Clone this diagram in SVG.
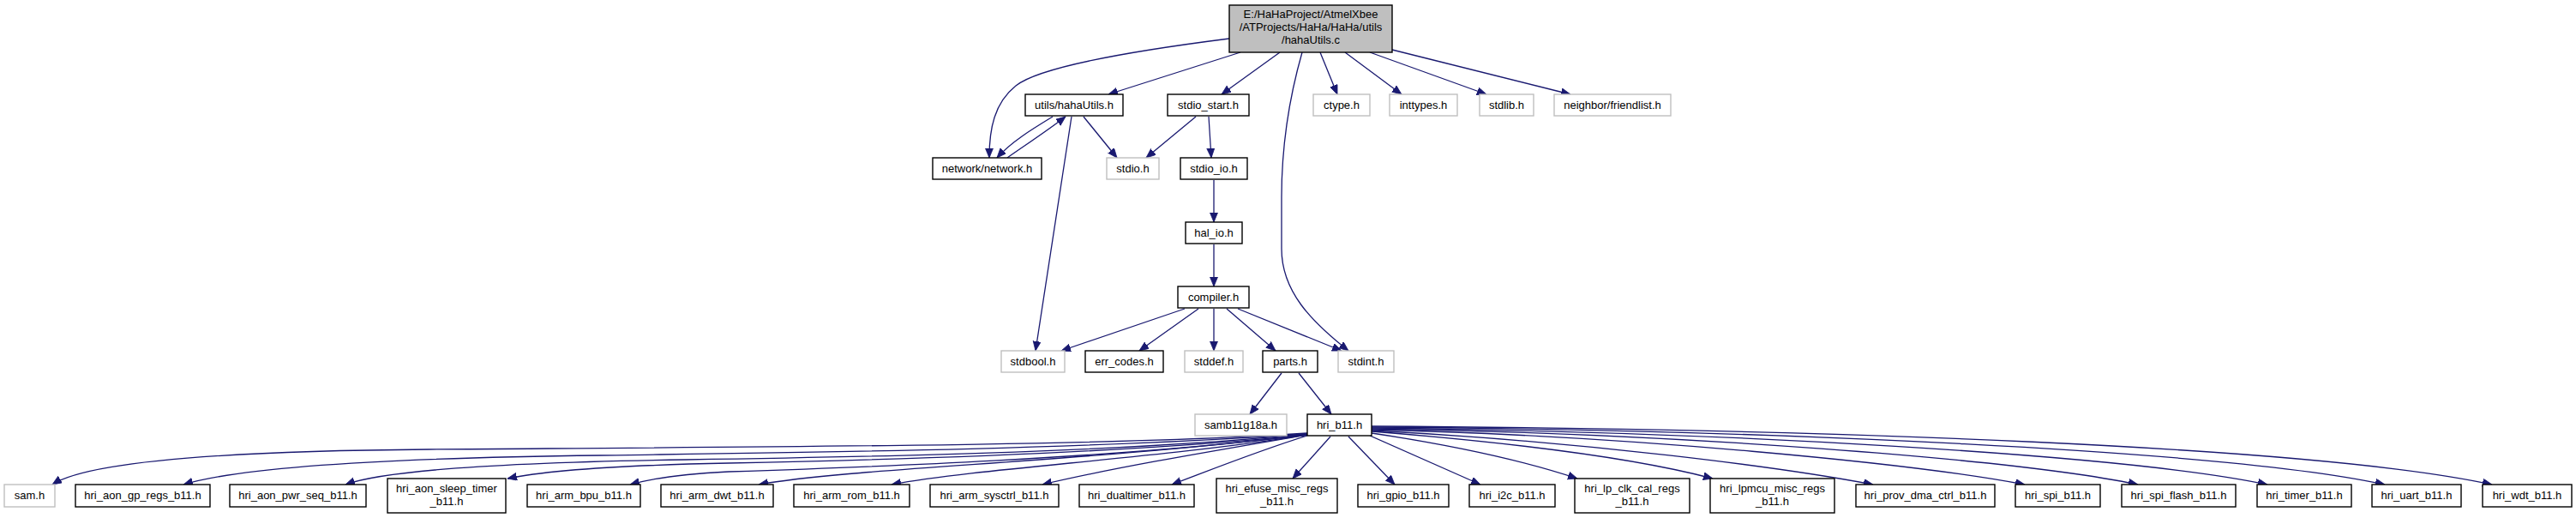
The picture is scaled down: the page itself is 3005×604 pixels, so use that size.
<svg xmlns="http://www.w3.org/2000/svg" width="3005" height="604" viewBox="0 0 3005 604">
<style>
.n rect{fill:#ffffff;stroke:#000000;stroke-width:1.4}
.g rect{fill:#ffffff;stroke:#bfbfbf;stroke-width:1.4}
.r rect{fill:#bfbfbf;stroke:#000000;stroke-width:1.4}
text{font-family:"Liberation Sans",Arial,sans-serif;font-size:13px;fill:#000000;text-anchor:middle}
#edges path{fill:none;stroke:#191970;stroke-width:1.3;marker-end:url(#ah)}
</style>
<defs>
<marker id="ah" markerUnits="userSpaceOnUse" markerWidth="12" markerHeight="10" refX="11" refY="4.5" orient="auto"><path d="M0,0 L11,4.5 L0,9 z" fill="#191970" stroke="#191970" stroke-width="0.8"/></marker>
</defs>
<rect width="3005" height="604" fill="#ffffff"/>
<g id="edges">
<path d="M1434,45 C1300,62 1210,80 1185,100 C1160,120 1154,150 1154,184"/>
<path d="M1447,61 L1293,110"/>
<path d="M1493,61 L1425,110"/>
<path d="M1519,61 C1505,110 1495,170 1495,230 L1495,290 C1495,340 1530,375 1573,409"/>
<path d="M1540,61 L1560,110"/>
<path d="M1569,61 L1635,110"/>
<path d="M1598,61 L1734,110"/>
<path d="M1624,58 L1832,110"/>
<path d="M1228,136 C1205,150 1180,165 1163,184"/>
<path d="M1175,184 C1195,170 1225,150 1243,136"/>
<path d="M1250,136 L1208,409"/>
<path d="M1264,136 L1303,184"/>
<path d="M1395,136 L1337,184"/>
<path d="M1410,136 L1413,184"/>
<path d="M1416,210 L1416,259"/>
<path d="M1416,285 L1416,334"/>
<path d="M1382,360 L1238,409"/>
<path d="M1398,360 L1329,409"/>
<path d="M1416,360 L1416,409"/>
<path d="M1431,360 L1488,409"/>
<path d="M1444,360 L1565,409"/>
<path d="M1495,435 L1458,483"/>
<path d="M1515,435 L1553,483"/>
<path d="M1525,505 C1300,520 900,521 500,524 C250,526 100,540 61,565"/>
<path d="M1525,506 C1250,525 900,528 700,531 C450,534 280,545 214,565"/>
<path d="M1525,506 C1300,528 1000,533 800,536 C600,539 450,548 403,565"/>
<path d="M1525,507 C1300,530 1000,537 850,540 C700,543 630,550 592,558"/>
<path d="M1525,507 C1300,535 1000,545 850,550 C790,553 760,558 735,565"/>
<path d="M1525,507 C1250,540 1000,545 885,565"/>
<path d="M1525,507 C1350,535 1150,545 1040,565"/>
<path d="M1525,507 C1420,525 1300,545 1216,565"/>
<path d="M1525,508 C1470,525 1420,545 1367,565"/>
<path d="M1552,509 L1508,558"/>
<path d="M1573,509 L1627,565"/>
<path d="M1598,508 L1727,565"/>
<path d="M1600,505 C1700,520 1780,538 1840,558"/>
<path d="M1600,503 C1750,515 1900,532 1998,558"/>
<path d="M1600,502 C1850,515 2080,545 2185,565"/>
<path d="M1600,501 C1900,508 2230,540 2362,565"/>
<path d="M1600,500 C1950,505 2350,535 2494,565"/>
<path d="M1600,499 C2000,503 2480,530 2645,565"/>
<path d="M1600,498 C2050,501 2600,525 2782,565"/>
<path d="M1600,497 C2120,500 2700,520 2907,565"/>
</g>
<g id="node-hahaUtils-c" class="r"><rect x="1434" y="6" width="190" height="55"/><text x="1529" y="21">E:/HaHaProject/AtmelXbee</text><text x="1529" y="36">/ATProjects/HaHa/HaHa/utils</text><text x="1529" y="51">/hahaUtils.c</text></g>
<g id="node-utils-hahaUtils-h" class="n"><rect x="1196" y="110" width="114" height="25"/><text x="1253" y="127">utils/hahaUtils.h</text></g>
<g id="node-stdio-start-h" class="n"><rect x="1362" y="110" width="95" height="25"/><text x="1409.5" y="127">stdio_start.h</text></g>
<g id="node-ctype-h" class="g"><rect x="1532" y="110" width="66" height="25"/><text x="1565" y="127">ctype.h</text></g>
<g id="node-inttypes-h" class="g"><rect x="1621" y="110" width="79" height="25"/><text x="1660.5" y="127">inttypes.h</text></g>
<g id="node-stdlib-h" class="g"><rect x="1726" y="110" width="63" height="25"/><text x="1757.5" y="127">stdlib.h</text></g>
<g id="node-friendlist-h" class="g"><rect x="1813" y="110" width="136" height="25"/><text x="1881" y="127">neighbor/friendlist.h</text></g>
<g id="node-network-h" class="n"><rect x="1088" y="184" width="127" height="25"/><text x="1151.5" y="201">network/network.h</text></g>
<g id="node-stdio-h" class="g"><rect x="1291" y="184" width="61" height="25"/><text x="1321.5" y="201">stdio.h</text></g>
<g id="node-stdio-io-h" class="n"><rect x="1377" y="184" width="78" height="25"/><text x="1416" y="201">stdio_io.h</text></g>
<g id="node-hal-io-h" class="n"><rect x="1383" y="259" width="66" height="25"/><text x="1416" y="276">hal_io.h</text></g>
<g id="node-compiler-h" class="n"><rect x="1374" y="334" width="83" height="25"/><text x="1415.5" y="351">compiler.h</text></g>
<g id="node-stdbool-h" class="g"><rect x="1168" y="409" width="74" height="25"/><text x="1205" y="426">stdbool.h</text></g>
<g id="node-err-codes-h" class="n"><rect x="1266" y="409" width="91" height="25"/><text x="1311.5" y="426">err_codes.h</text></g>
<g id="node-stddef-h" class="g"><rect x="1382" y="409" width="68" height="25"/><text x="1416" y="426">stddef.h</text></g>
<g id="node-parts-h" class="n"><rect x="1473" y="409" width="64" height="25"/><text x="1505" y="426">parts.h</text></g>
<g id="node-stdint-h" class="g"><rect x="1561" y="409" width="65" height="25"/><text x="1593.5" y="426">stdint.h</text></g>
<g id="node-samb11g18a-h" class="g"><rect x="1394" y="483" width="107" height="25"/><text x="1447.5" y="500">samb11g18a.h</text></g>
<g id="node-hri-b11-h" class="n"><rect x="1525" y="483" width="75" height="25"/><text x="1562.5" y="500">hri_b11.h</text></g>
<g id="node-sam-h" class="g"><rect x="5" y="565" width="59" height="26"/><text x="34.5" y="582">sam.h</text></g>
<g id="node-aon-gp" class="n"><rect x="88" y="565" width="157" height="26"/><text x="166.5" y="582">hri_aon_gp_regs_b11.h</text></g>
<g id="node-aon-pwr" class="n"><rect x="268" y="565" width="159" height="26"/><text x="347.5" y="582">hri_aon_pwr_seq_b11.h</text></g>
<g id="node-aon-sleep" class="n"><rect x="452" y="558" width="138" height="40"/><text x="521" y="574">hri_aon_sleep_timer</text><text x="521" y="589">_b11.h</text></g>
<g id="node-arm-bpu" class="n"><rect x="615" y="565" width="132" height="26"/><text x="681" y="582">hri_arm_bpu_b11.h</text></g>
<g id="node-arm-dwt" class="n"><rect x="771" y="565" width="131" height="26"/><text x="836.5" y="582">hri_arm_dwt_b11.h</text></g>
<g id="node-arm-rom" class="n"><rect x="926" y="565" width="135" height="26"/><text x="993.5" y="582">hri_arm_rom_b11.h</text></g>
<g id="node-arm-sysctrl" class="n"><rect x="1085" y="565" width="150" height="26"/><text x="1160" y="582">hri_arm_sysctrl_b11.h</text></g>
<g id="node-dualtimer" class="n"><rect x="1259" y="565" width="134" height="26"/><text x="1326" y="582">hri_dualtimer_b11.h</text></g>
<g id="node-efuse" class="n"><rect x="1419" y="558" width="141" height="40"/><text x="1489.5" y="574">hri_efuse_misc_regs</text><text x="1489.5" y="589">_b11.h</text></g>
<g id="node-gpio" class="n"><rect x="1584" y="565" width="106" height="26"/><text x="1637" y="582">hri_gpio_b11.h</text></g>
<g id="node-i2c" class="n"><rect x="1714" y="565" width="100" height="26"/><text x="1764" y="582">hri_i2c_b11.h</text></g>
<g id="node-lp-clk" class="n"><rect x="1837" y="558" width="134" height="40"/><text x="1904" y="574">hri_lp_clk_cal_regs</text><text x="1904" y="589">_b11.h</text></g>
<g id="node-lpmcu" class="n"><rect x="1995" y="558" width="145" height="40"/><text x="2067.5" y="574">hri_lpmcu_misc_regs</text><text x="2067.5" y="589">_b11.h</text></g>
<g id="node-prov-dma" class="n"><rect x="2165" y="565" width="162" height="26"/><text x="2246" y="582">hri_prov_dma_ctrl_b11.h</text></g>
<g id="node-spi" class="n"><rect x="2351" y="565" width="99" height="26"/><text x="2400.5" y="582">hri_spi_b11.h</text></g>
<g id="node-spi-flash" class="n"><rect x="2475" y="565" width="133" height="26"/><text x="2541.5" y="582">hri_spi_flash_b11.h</text></g>
<g id="node-timer" class="n"><rect x="2633" y="565" width="110" height="26"/><text x="2688" y="582">hri_timer_b11.h</text></g>
<g id="node-uart" class="n"><rect x="2767" y="565" width="104" height="26"/><text x="2819" y="582">hri_uart_b11.h</text></g>
<g id="node-wdt" class="n"><rect x="2896" y="565" width="104" height="26"/><text x="2948" y="582">hri_wdt_b11.h</text></g>
</svg>
